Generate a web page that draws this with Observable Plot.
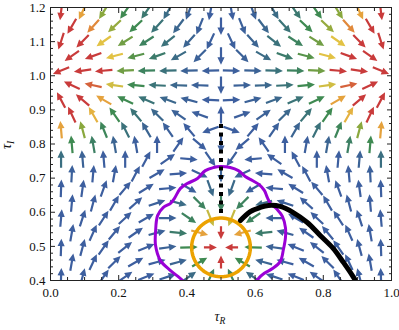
<!DOCTYPE html>
<html><head><meta charset="utf-8">
<script src="https://cdn.jsdelivr.net/npm/d3@7"></script>
<script src="https://cdn.jsdelivr.net/npm/@observablehq/plot@0.6"></script>
<style>
body{margin:0;background:#fff}
svg, svg text, svg tspan {font-family: "Liberation Serif", "Times New Roman", Times, serif !important;}
</style>
</head><body><div id="chart"></div>
<script>
// grid rows (top to bottom) — staggered (hexagonal) sampling grid
const rowY = [1.188,1.145,1.101,1.058,1.015,0.972,0.929,0.886,0.842,0.799,0.756,0.713,0.670,0.627,0.583,0.540,0.497,0.454,0.411];
const xA = [0.031,0.094,0.156,0.219,0.281,0.344,0.406,0.469,0.531,0.594,0.656,0.719,0.781,0.844,0.906,0.969];
const xB = [0.0625,0.125,0.1875,0.25,0.3125,0.375,0.4375,0.5,0.5625,0.625,0.6875,0.75,0.8125,0.875,0.9375];
// arrow directions (degrees, counter-clockwise from +τR), per row
const angles = [
 [-97,-115,-122,-125,-125,-120,-110,-100,-80,-70,-60,-55,-55,-58,-65,-83],
 [-120,-132,-137,-137,-133,-127,-112,-90,-68,-53,-47,-43,-43,-48,-60],
 [-108,-135,-145,-148,-147,-142,-132,-115,-65,-48,-38,-33,-32,-35,-45,-72],
 [-145,-160,-165,-165,-160,-150,-135,-90,-45,-30,-20,-15,-15,-20,-35],
 [-158,-172,-175,-177,-178,-178,-178,-178,-2,-2,-2,-2,-3,-5,-8,-22],
 [155,168,172,175,177,178,178,-90,2,2,3,5,8,12,25],
 [118,140,150,155,157,160,165,178,2,15,20,23,25,30,40,62],
 [115,120,125,130,135,145,160,90,20,35,45,50,55,60,65],
 [95,105,112,117,120,125,130,-160,-20,50,55,60,63,68,75,85],
 [95,100,100,100,90,55,-40,-90,-140,125,90,80,80,80,85],
 [90,95,95,90,62,35,-5,-55,-125,-175,145,118,90,85,85,90],
 [87,85,80,62,30,5,-25,-90,-155,175,150,118,100,95,93],
 [88,82,70,50,32,5,-30,-70,-110,-150,175,148,130,110,98,92],
 [85,75,60,42,18,-15,-45,-90,-135,-165,162,138,120,105,95],
 [85,72,57,43,30,0,-35,-68,-112,-145,180,150,137,123,108,95],
 [80,66,50,35,15,-5,-15,-90,-165,-175,165,145,130,114,100],
 [88,75,55,38,22,8,2,0,180,178,172,158,142,125,105,92],
 [80,65,45,30,15,15,30,90,150,165,165,150,135,115,100],
 [88,75,55,35,22,18,35,65,115,145,162,158,145,125,105,92]
];
// relative field magnitude (0 = low/blue, 1 = high/red), per row
const levels = [
 [1,.85,.6,.45,.33,.22,.1,.05,.05,.1,.22,.33,.45,.6,.85,1],
 [1,.9,.62,.45,.3,.17,.08,.04,.08,.17,.3,.45,.62,.9,1],
 [1,1,.75,.55,.4,.28,.15,.06,.06,.15,.28,.4,.55,.75,1,1],
 [1,1,.75,.5,.35,.22,.1,.05,.1,.22,.35,.5,.75,1,1],
 [1,1,1,.55,.4,.28,.12,.06,.06,.12,.28,.4,.55,1,1,1],
 [1,.95,.72,.45,.3,.18,.1,.05,.1,.18,.3,.45,.72,.95,1],
 [1,1,.85,.45,.3,.18,.1,.05,.05,.1,.18,.3,.45,.85,1,1],
 [1,.8,.45,.3,.18,.1,.06,.04,.06,.1,.18,.3,.45,.8,1],
 [.85,.6,.42,.28,.15,.08,.05,.05,.05,.05,.08,.15,.28,.42,.6,.85],
 [.45,.38,.15,.06,.05,.05,.05,.06,.05,.05,.05,.06,.15,.38,.45],
 [.25,.12,.05,.05,.05,.05,.05,.06,.06,.05,.05,.05,.05,.05,.12,.25],
 [.08,.05,.05,.05,.05,.05,.08,.12,.08,.05,.05,.05,.05,.05,.08],
 [.05,.05,.05,.05,.05,.05,.08,.2,.2,.08,.05,.05,.05,.05,.05,.05],
 [.05,.05,.05,.05,.08,.22,.4,.4,.4,.22,.08,.05,.05,.05,.05],
 [.05,.05,.05,.05,.05,.1,.4,.7,.7,.4,.1,.05,.05,.05,.05,.05],
 [.05,.05,.05,.05,.1,.35,.85,1,.85,.35,.1,.05,.05,.05,.05],
 [.05,.05,.05,.05,.05,.12,.45,1,1,.45,.12,.05,.05,.05,.05,.05],
 [.05,.05,.05,.05,.05,.15,.45,1,.45,.15,.05,.05,.05,.05,.05],
 [.05,.05,.05,.05,.05,.08,.22,.4,.4,.22,.08,.05,.05,.05,.05,.05]
];
// purple closed contour
const purpleX = [0.395,0.387,0.352,0.322,0.308,0.308,0.314,0.331,0.352,0.363,0.381,0.401,0.431,0.454,0.478,0.498,0.527,0.551,0.571,0.592,0.612,0.627,0.636,0.645,0.665,0.680,0.689,0.689,0.683,0.674,0.651,0.627,0.610,0.600];
const purpleY = [0.385,0.400,0.429,0.459,0.503,0.541,0.590,0.614,0.626,0.640,0.670,0.684,0.699,0.722,0.731,0.734,0.731,0.722,0.705,0.693,0.681,0.664,0.643,0.626,0.608,0.588,0.555,0.526,0.491,0.456,0.435,0.421,0.406,0.390];
// black solid path
const blackX = [0.557,0.586,0.615,0.639,0.674,0.712,0.753,0.791,0.829,0.859,0.885,0.900];
const blackY = [0.576,0.602,0.614,0.620,0.617,0.599,0.570,0.532,0.494,0.453,0.415,0.390];
// black dotted segment
const dottedX = [0.5, 0.5];
const dottedY = [0.598, 0.866];
// orange circle
const circleCenter = [0.5, 0.497];
const circleRadius = 0.086;
// ticks
const xTicks = [0, 0.2, 0.4, 0.6, 0.8, 1.0];
const xMinor = [0.05,0.1,0.15,0.25,0.3,0.35,0.45,0.5,0.55,0.65,0.7,0.75,0.85,0.9,0.95];
const yTicks = [0.4,0.5,0.6,0.7,0.8,0.9,1.0,1.1,1.2];
const yMinor = [];
for (let k = 0; k <= 40; k++) { const v = +(0.4 + k*0.02).toFixed(2); if (k % 5) yMinor.push(v); }

const arrows = [];
rowY.forEach((y, i) => {
  const xs = angles[i].length === 16 ? xA : xB;
  xs.forEach((x, j) => arrows.push({x, y, a: angles[i][j], lvl: levels[i][j],
    near: Math.hypot(x - circleCenter[0], y - circleCenter[1]) < 0.05}));
});
const purple = purpleX.map((x, i) => ({x, y: purpleY[i]}));
const black = blackX.map((x, i) => ({x, y: blackY[i]}));
const dotted = dottedX.map((x, i) => ({x, y: dottedY[i]}));
const circle = d3.range(0, 361, 4).map(t => ({
  x: circleCenter[0] + circleRadius * Math.cos(t * Math.PI / 180),
  y: circleCenter[1] + circleRadius * Math.sin(t * Math.PI / 180)}));

const arrowShape = {
  draw(context, l) {
    const hw = 3.6, hl = 7.5, sw = 1.1;
    context.moveTo(-sw, 0);
    context.lineTo(-sw, -l + hl);
    context.lineTo(-hw, -l + hl);
    context.lineTo(0, -l);
    context.lineTo(hw, -l + hl);
    context.lineTo(sw, -l + hl);
    context.lineTo(sw, 0);
    context.closePath();
  }
};
const blank = () => "";
const serif = "'Liberation Serif', 'Times New Roman', serif";

const plot = Plot.plot({
  width: 399, height: 330,
  marginLeft: 50, marginRight: 8, marginTop: 7, marginBottom: 50,
  style: {fontSize: "12.5px", color: "#111", background: "#fff", fontFamily: serif},
  x: {domain: [0, 1]},
  y: {domain: [0.4, 1.2]},
  color: {type: "linear", domain: [0, 0.15, 0.3, 0.45, 0.6, 0.75, 0.88, 1],
          range: ["#3d5ca5", "#3c6592", "#3b7478", "#3f8a52", "#8aa83e", "#e2c244", "#e6983b", "#c93b3b"]},
  marks: [
    Plot.vector(arrows.filter(d => !d.near), {x: "x", y: "y", rotate: d => 90 - d.a, length: 17.5, anchor: "middle",
      shape: arrowShape, fill: "lvl", stroke: "none", clip: true}),
    Plot.vector(arrows.filter(d => d.near), {x: "x", y: "y", rotate: d => 90 - d.a, length: 13, anchor: "middle",
      shape: arrowShape, fill: "lvl", stroke: "none", clip: true}),
    Plot.line(purple, {x: "x", y: "y", stroke: "#9a00d6", strokeWidth: 3, curve: "catmull-rom", clip: true}),
    Plot.line(circle, {x: "x", y: "y", stroke: "#eca200", strokeWidth: 3.5, clip: true}),
    Plot.line(black, {x: "x", y: "y", stroke: "#000", strokeWidth: 5, curve: "catmull-rom", clip: true}),
    Plot.line(dotted, {x: "x", y: "y", stroke: "#000", strokeWidth: 4, strokeDasharray: "4,4.5", strokeLinecap: "butt"}),
    Plot.frame({stroke: "#222"}),
    Plot.axisX({ticks: xTicks, tickSize: 0, tickPadding: 7, tickFormat: d3.format(".1f"), label: null, fontFamily: serif, fontSize: 13}),
    Plot.axisX({ticks: xTicks, tickSize: -5, tickFormat: blank, label: null, stroke: "#222"}),
    Plot.axisX({ticks: xTicks, anchor: "top", tickSize: -5, tickFormat: blank, label: null, stroke: "#222"}),
    Plot.axisX({ticks: xMinor, tickSize: -3, tickFormat: blank, label: null, stroke: "#222"}),
    Plot.axisX({ticks: xMinor, anchor: "top", tickSize: -3, tickFormat: blank, label: null, stroke: "#222"}),
    Plot.axisY({ticks: yTicks, tickSize: 0, tickPadding: 5, tickFormat: d3.format(".1f"), label: null, fontFamily: serif, fontSize: 13}),
    Plot.axisY({ticks: yTicks, tickSize: -5, tickFormat: blank, label: null, stroke: "#222"}),
    Plot.axisY({ticks: yTicks, anchor: "right", tickSize: -5, tickFormat: blank, label: null, stroke: "#222"}),
    Plot.axisY({ticks: yMinor, tickSize: -3, tickFormat: blank, label: null, stroke: "#222"}),
    Plot.axisY({ticks: yMinor, anchor: "right", tickSize: -3, tickFormat: blank, label: null, stroke: "#222"})
  ]
});

const svg = d3.select(plot);
const tx = svg.append("text").attr("x", 220).attr("y", 321).attr("text-anchor", "middle")
  .attr("font-family", serif).attr("font-size", 14).attr("font-style", "italic").attr("fill", "#111");
tx.append("tspan").text("τ");
tx.append("tspan").attr("font-size", 9.5).attr("dy", 3).text("R");
const ty = svg.append("text").attr("transform", "translate(11,145) rotate(-90)").attr("text-anchor", "middle")
  .attr("font-family", serif).attr("font-size", 14).attr("font-style", "italic").attr("fill", "#111");
ty.append("tspan").text("τ");
ty.append("tspan").attr("font-size", 9.5).attr("dy", 3).text("I");

document.getElementById("chart").appendChild(plot);
</script>
</body></html>
